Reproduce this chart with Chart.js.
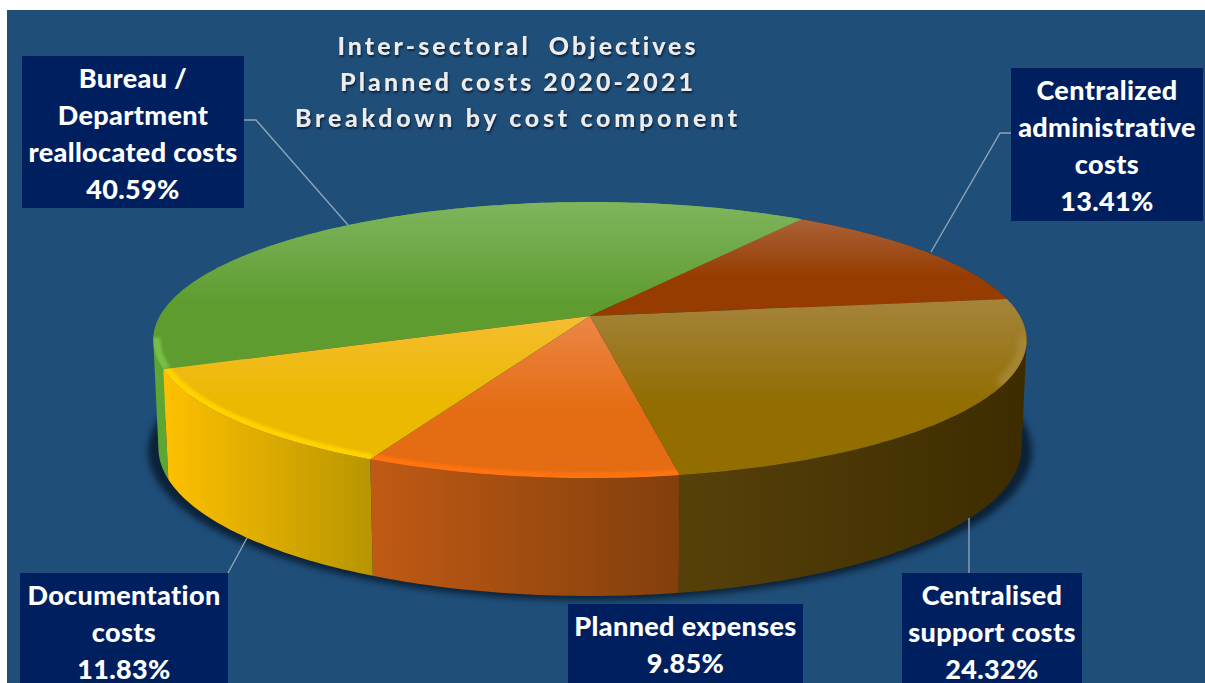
<!DOCTYPE html>
<html>
<head>
<meta charset="utf-8">
<title>Inter-sectoral Objectives</title>
<script src="https://cdn.jsdelivr.net/npm/chart.js@4"></script>
<style>
  html, body { margin: 0; height: 100%; background: #fff; overflow: hidden; }
  #panel { position: absolute; left: 7px; top: 10px; right: 0; bottom: 0; background: #1f4e79; }
  #chart { position: absolute; left: 0; top: 0; }
  #title {
    position: absolute; left: 218px; width: 600px; top: 27px;
    text-align: center; color: #ececec;
    font: 900 25px/36px Lato, sans-serif;
    font-variant-ligatures: none;
    text-shadow: 1px 2px 2px rgba(10, 25, 45, .8);
  }
  #title div { white-space: pre; }
  .box {
    position: absolute; box-sizing: border-box; padding-top: 3px; overflow: hidden;
    background: #001f5f; color: #fff; text-align: center;
    font: 900 27px/37px Lato, sans-serif; white-space: nowrap;
    letter-spacing: .35px; font-variant-ligatures: none;
  }
</style>
</head>
<body>
<div id="panel"></div>
<canvas id="chart" width="1205" height="683"></canvas>
<div id="title"></div>
<script>
const titleLines = ["Inter-sectoral  Objectives", "Planned costs 2020-2021", "Breakdown by cost component"];
const titleSpacing = [3.0, 3.05, 3.7];
const categories = [
  "Bureau / Department reallocated costs",
  "Centralized administrative costs",
  "Centralised support costs",
  "Planned expenses",
  "Documentation costs",
];
const categoryLines = [
  ["Bureau /", "Department", "reallocated costs"],
  ["Centralized", "administrative", "costs"],
  ["Centralised", "support costs"],
  ["Planned expenses"],
  ["Documentation", "costs"],
];
const shares = [40.59, 13.41, 24.32, 9.85, 11.83];

const baseColors = ["#5f9c30", "#963c00", "#926d00", "#e46c12", "#eab900"];
const lightColors = ["#7fb55e", "#aa6238", "#a5843c", "#ec8646", "#f5bd30"];
const wallLeftColors = ["#5ca634", "#5c2800", "#57410a", "#c05a14", "#ffc000"];
const wallRightColors = ["#5ca634", "#5c2800", "#3d2c00", "#823f0c", "#b89600"];
const rimColors = ["#76bf48", null, "rgba(175,145,70,.7)", "#ff7310", "#ffd200"];

// label boxes: left, top, width, height
const boxes = [
  [22, 56, 222, 152],
  [1011, 68, 192, 153],
  [902, 573, 180, 110],
  [568, 604, 235, 79],
  [20, 573, 208, 110],
];
const leaders = [
  [[244, 120], [256, 120], [348, 225]],
  [[1011, 133], [1000, 133], [931, 252]],
  [[969, 573], [969, 518]],
  null,
  [[228, 573], [247, 538]],
];

// Perspective view of the pie disc: u to the right, v towards the viewer
const topFace = { cx: 590, cy: 316, a: 430, b: 133.8, p: 0.174 };
const bottomFace = { cx: 590, cy: 422, a: 425, b: 143.7, p: 0.174 };

function project(face, angle, r = 1) {
  const u = Math.cos(angle) * r, v = Math.sin(angle) * r;
  const w = 1 - face.p * v;
  return [face.cx + face.a * u / w, face.cy + face.b * v / w];
}

function edgePoints(face, from, to, r = 1) {
  const steps = Math.max(2, Math.ceil(Math.abs(to - from) / (Math.PI / 180)));
  const pts = [];
  for (let i = 0; i <= steps; i++) pts.push(project(face, from + (to - from) * i / steps, r));
  return pts;
}

function tracePolygon(ctx, pts) {
  pts.forEach(([x, y], i) => (i ? ctx.lineTo(x, y) : ctx.moveTo(x, y)));
  ctx.closePath();
}

function signedArea(pts) {
  let sum = 0;
  pts.forEach(([x, y], i) => {
    const [nx, ny] = pts[(i + 1) % pts.length];
    sum += x * ny - nx * y;
  });
  return sum;
}

const pieBlock = {
  id: "pieBlock",
  // the arcs keep their angles from the pie controller, only the drawing is replaced
  beforeDatasetDraw(chart) {
    const ctx = chart.ctx;
    const arcs = chart.getDatasetMeta(0).data;

    // drop shadow under the block
    ctx.save();
    ctx.filter = "blur(3px)";
    ctx.fillStyle = "#0b2238";
    ctx.beginPath();
    ctx.ellipse(590, 451, 442, 149, 0, 0, Math.PI * 2);
    ctx.fill();
    ctx.restore();

    // side walls: quads wound the same way in one path, so the back and front don't cancel out
    arcs.forEach((arc, i) => {
      const top = edgePoints(topFace, arc.startAngle, arc.endAngle);
      const bottom = edgePoints(bottomFace, arc.startAngle, arc.endAngle);
      const xs = top.map((p) => p[0]);
      const left = Math.min(...xs), right = Math.max(...xs);
      const g = ctx.createLinearGradient(left, 0, right, 0);
      g.addColorStop(0, wallLeftColors[i]);
      g.addColorStop(1, wallRightColors[i]);
      ctx.fillStyle = g;
      ctx.beginPath();
      for (let k = 0; k < top.length - 1; k++) {
        const quad = [top[k], top[k + 1], bottom[k + 1], bottom[k]];
        if (signedArea(quad) < 0) quad.reverse();
        tracePolygon(ctx, quad);
      }
      ctx.fill();
    });

    // top face
    arcs.forEach((arc, i) => {
      const pts = [[topFace.cx, topFace.cy]].concat(edgePoints(topFace, arc.startAngle, arc.endAngle));
      const ys = pts.map((p) => p[1]);
      const minY = Math.min(...ys), maxY = Math.max(...ys);
      const g = ctx.createLinearGradient(0, minY, 0, maxY);
      g.addColorStop(0, lightColors[i]);
      g.addColorStop(0.6, baseColors[i]);
      g.addColorStop(1, baseColors[i]);
      ctx.fillStyle = g;
      ctx.beginPath();
      tracePolygon(ctx, pts);
      ctx.fill();

      // bevel along the front rim
      if (!rimColors[i]) return;
      ctx.save();
      ctx.beginPath();
      tracePolygon(ctx, pts);
      ctx.clip();
      ctx.filter = i === 2 ? "blur(3px)" : "blur(1.5px)";
      ctx.strokeStyle = rimColors[i];
      ctx.lineWidth = i === 2 ? 9 : 8;
      const rim = edgePoints(topFace, arc.startAngle, arc.endAngle, 0.993)
        .filter(([x, y]) => y > 335 && (i !== 2 || y < 385));
      ctx.beginPath();
      rim.forEach(([x, y], k) => (k ? ctx.lineTo(x, y) : ctx.moveTo(x, y)));
      ctx.stroke();
      ctx.restore();
    });

    // leader lines
    ctx.strokeStyle = "#8ea4b8";
    ctx.lineWidth = 1.4;
    leaders.forEach((line) => {
      if (!line) return;
      ctx.beginPath();
      line.forEach(([x, y], k) => (k ? ctx.lineTo(x, y) : ctx.moveTo(x, y)));
      ctx.stroke();
    });
    return false;
  },
};

new Chart(document.getElementById("chart"), {
  type: "pie",
  data: {
    labels: categories,
    datasets: [{ data: shares, backgroundColor: baseColors, borderWidth: 0 }],
  },
  options: {
    responsive: false,
    animation: false,
    rotation: -111.9,
    plugins: { legend: { display: false }, tooltip: { enabled: false } },
  },
  plugins: [pieBlock],
});

titleLines.forEach((text, i) => {
  const line = document.createElement("div");
  line.textContent = text;
  line.style.letterSpacing = titleSpacing[i] + "px";
  document.getElementById("title").appendChild(line);
});

categoryLines.forEach((lines, i) => {
  const [left, top, width, height] = boxes[i];
  const box = document.createElement("div");
  box.className = "box";
  box.style.cssText = `left:${left}px;top:${top}px;width:${width}px;height:${height}px`;
  box.innerHTML = lines.concat(shares[i].toFixed(2) + "%").join("<br>");
  document.body.appendChild(box);
});
</script>
</body>
</html>
